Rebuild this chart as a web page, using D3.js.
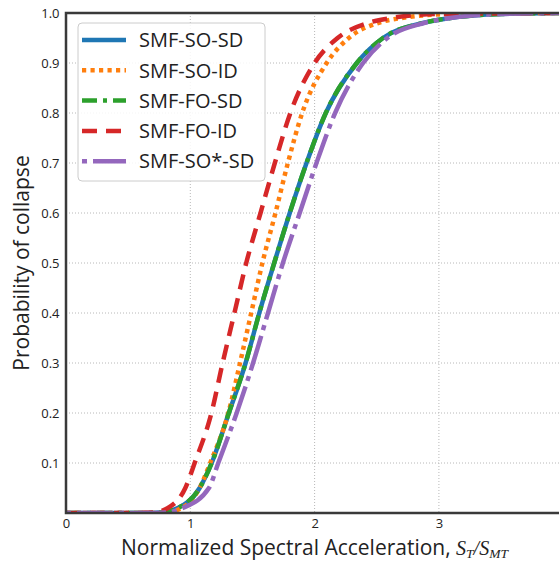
<!DOCTYPE html>
<html><head><meta charset="utf-8">
<script src="https://cdn.jsdelivr.net/npm/d3@7"></script>
<style>body{margin:0;background:#fff}</style></head>
<body>
<svg id="c" width="559" height="564"></svg>
<script>
const probLevels = [0, 0, 0.001, 0.01, 0.05, 0.1, 0.2, 0.3, 0.4, 0.5, 0.6, 0.7, 0.8, 0.9, 0.95, 0.98, 0.99, 0.998, 1.0];
const xSO_SD  = [0, 0.60, 0.76, 0.90, 1.075, 1.172, 1.31, 1.445, 1.555, 1.675, 1.80, 1.935, 2.09, 2.34, 2.55, 2.87, 3.09, 3.5, 4.0];
const xSO_ID  = [0, 0.65, 0.80, 0.93, 1.075, 1.16, 1.306, 1.40, 1.49, 1.58, 1.685, 1.785, 1.90, 2.097, 2.275, 2.51, 2.70, 3.1, 4.0];
const xFO_SD  = [0, 0.60, 0.76, 0.90, 1.075, 1.172, 1.31, 1.445, 1.555, 1.675, 1.80, 1.935, 2.09, 2.34, 2.55, 2.87, 3.09, 3.5, 4.0];
const xFO_ID  = [0, 0.55, 0.70, 0.82, 0.96, 1.035, 1.17, 1.26, 1.355, 1.45, 1.565, 1.68, 1.805, 2.0, 2.185, 2.43, 2.62, 3.0, 4.0];
const xSOs_SD = [0, 0.65, 0.80, 0.94, 1.15, 1.225, 1.373, 1.505, 1.625, 1.745, 1.88, 2.015, 2.165, 2.39, 2.585, 2.88, 3.09, 3.5, 4.0];

const seriesNames = ["SMF-SO-SD", "SMF-SO-ID", "SMF-FO-SD", "SMF-FO-ID", "SMF-SO*-SD"];
const seriesX = [xSO_SD, xSO_ID, xFO_SD, xFO_ID, xSOs_SD];
const seriesColors = ["#1f77b4", "#ff7f0e", "#2ca02c", "#d62728", "#9467bd"];
const seriesDash = [null, "4.2,4.3", "15,6,4,6", "15,9", "5,6,36,6"];

const xTicks = [0, 1, 2, 3];
const yTicks = [0.1, 0.2, 0.3, 0.4, 0.5, 0.6, 0.7, 0.8, 0.9, 1.0];

const L = 66, T = 13, B = 513, R = 563.2;
const svg = d3.select("#c");
const x = d3.scaleLinear().domain([0, 4]).range([L, R]);
const y = d3.scaleLinear().domain([0, 1]).range([B, T]);
const font = "Open Sans";

svg.append("defs").append("clipPath").attr("id", "clip")
  .append("rect").attr("x", L).attr("y", T).attr("width", R - L).attr("height", B - T);

// grid
const grid = svg.append("g");
grid.selectAll("line.vx").data(xTicks.filter(d => d > 0)).join("line")
  .attr("x1", d => x(d)).attr("x2", d => x(d)).attr("y1", T).attr("y2", B)
  .attr("stroke", "#b8b8b8").attr("stroke-width", 1).attr("stroke-dasharray", "1,2");
grid.selectAll("line.hy").data(yTicks).join("line")
  .attr("x1", L).attr("x2", R).attr("y1", d => y(d)).attr("y2", d => y(d))
  .attr("stroke", "#b8b8b8").attr("stroke-width", 1).attr("stroke-dasharray", "1,2");

// curves
const line = d3.line().x(d => x(d[0])).y(d => y(d[1])).curve(d3.curveMonotoneX);
const curves = svg.append("g").attr("clip-path", "url(#clip)");
seriesX.forEach((xs, i) => {
  const pts = xs.map((v, j) => [v, probLevels[j]]);
  curves.append("path").datum(pts).attr("d", line)
    .attr("fill", "none").attr("stroke", seriesColors[i]).attr("stroke-width", 4.5)
    .attr("stroke-dasharray", seriesDash[i]);
});

// axes
const xAxis = d3.axisBottom(x).tickValues(xTicks).tickSize(0).tickPadding(5.5).tickFormat(d3.format("d"));
const gx = svg.append("g").attr("transform", `translate(0,${B})`).call(xAxis);
gx.select(".domain").remove();
gx.selectAll("text").attr("font-family", font).attr("font-size", 13).attr("fill", "#222");

const yAxis = d3.axisLeft(y).tickValues(yTicks).tickSize(0).tickPadding(6.5).tickFormat(d3.format(".1f"));
const gy = svg.append("g").attr("transform", `translate(${L},0)`).call(yAxis);
gy.select(".domain").remove();
gy.selectAll("text").attr("font-family", font).attr("font-size", 13).attr("fill", "#222");

// spines
const sp = svg.append("g").attr("stroke", "#3a3a3a").attr("stroke-width", 2.5).attr("fill", "none");
sp.append("path").attr("d", `M${R},${T}H${L}V${B}H${R}`);

// labels
svg.append("text").attr("transform", `translate(29,263) rotate(-90)`).attr("text-anchor", "middle")
  .attr("font-family", font).attr("font-size", 21).attr("fill", "#222").text("Probability of collapse");

svg.append("text").attr("x", 121).attr("y", 555).attr("text-anchor", "start")
  .attr("font-family", font).attr("font-size", 21).attr("fill", "#222")
  .text("Normalized Spectral Acceleration,");
const xm = svg.append("text").attr("x", 456).attr("y", 555).attr("text-anchor", "start")
  .attr("font-family", "Liberation Serif").attr("font-style", "italic").attr("fill", "#222")
  .attr("textLength", 52).attr("lengthAdjust", "spacingAndGlyphs");
xm.append("tspan").attr("font-size", 20).text("S");
xm.append("tspan").attr("font-size", 13.5).attr("dy", 3).text("T");
xm.append("tspan").attr("font-size", 20).attr("dy", -3).text("/S");
xm.append("tspan").attr("font-size", 13.5).attr("dy", 3).text("MT");

// legend
const lg = svg.append("g");
lg.append("rect").attr("x", 78).attr("y", 23).attr("width", 187).attr("height", 158).attr("rx", 4)
  .attr("fill", "#fff").attr("fill-opacity", 0.85).attr("stroke", "#cccccc").attr("stroke-width", 1);
seriesNames.forEach((nm, i) => {
  const cy = 40 + i * 30.3;
  lg.append("line").attr("x1", 82).attr("x2", 126).attr("y1", cy).attr("y2", cy)
    .attr("stroke", seriesColors[i]).attr("stroke-width", 4.5).attr("stroke-dasharray", seriesDash[i]);
  lg.append("text").attr("x", 139).attr("y", cy).attr("dy", "0.36em")
    .attr("font-family", font).attr("font-size", 20).attr("fill", "#222").text(nm);
});
</script>
</body></html>
